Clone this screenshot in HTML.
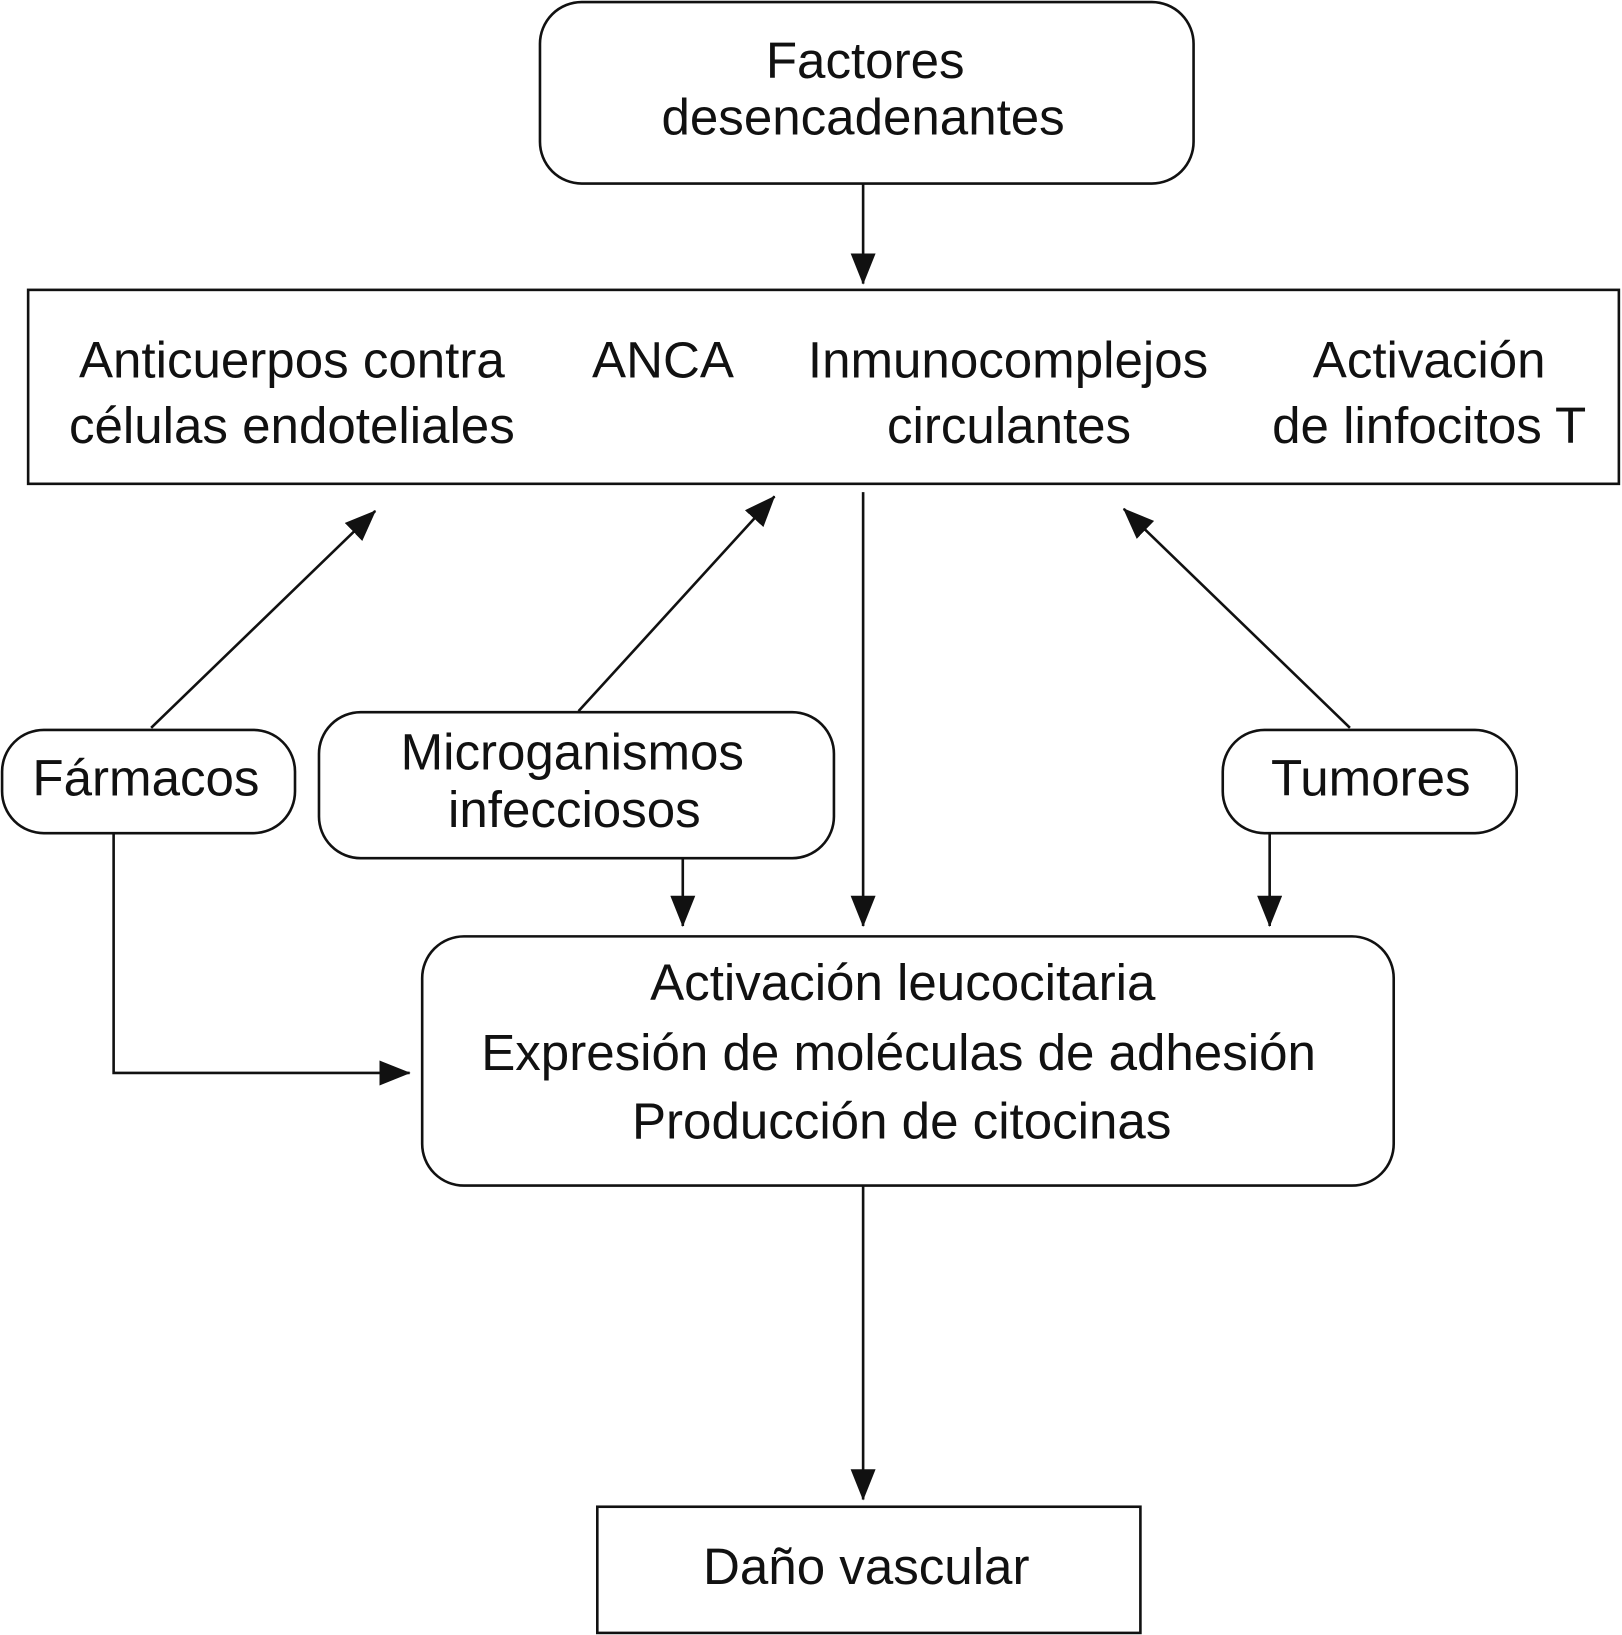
<!DOCTYPE html>
<html><head><meta charset="utf-8"><style>
html,body{margin:0;padding:0;background:#fff}
svg{display:block}
text{font-family:"Liberation Sans",Arial,sans-serif;font-size:49px;fill:#111;text-anchor:middle}
</style></head><body>
<svg width="1622" height="1635" viewBox="0 0 1556 1568" preserveAspectRatio="none" xmlns="http://www.w3.org/2000/svg">
<defs>
<marker id="a" markerWidth="12" markerHeight="10" refX="11" refY="5" orient="auto" markerUnits="userSpaceOnUse" viewBox="0 0 12 10">
</marker>
<marker id="h" viewBox="0 0 30 24" refX="29" refY="12" markerWidth="30" markerHeight="24" orient="auto" markerUnits="userSpaceOnUse">
<path d="M0,0 L30,12 L0,24 Z" fill="#111"/>
</marker>
</defs>
<g fill="none" stroke="#111" stroke-width="2.5">
<rect x="518" y="2" width="627" height="174" rx="40"/>
<rect x="27" y="278" width="1526" height="186"/>
<rect x="2" y="700" width="281" height="99" rx="40"/>
<rect x="306" y="683" width="494" height="140" rx="40"/>
<rect x="1173" y="700" width="282" height="99" rx="40"/>
<rect x="405" y="898" width="932" height="239" rx="40"/>
<rect x="573" y="1445" width="521" height="121"/>
<line x1="828" y1="176" x2="828" y2="272" marker-end="url(#h)"/>
<line x1="145" y1="698" x2="360" y2="490" marker-end="url(#h)"/>
<line x1="555" y1="682" x2="743" y2="476" marker-end="url(#h)"/>
<line x1="828" y1="472" x2="828" y2="888" marker-end="url(#h)"/>
<line x1="1295" y1="698" x2="1078" y2="488" marker-end="url(#h)"/>
<line x1="655" y1="823" x2="655" y2="888" marker-end="url(#h)"/>
<line x1="1218" y1="799" x2="1218" y2="888" marker-end="url(#h)"/>
<polyline points="109,799 109,1029 393,1029" marker-end="url(#h)"/>
<line x1="828" y1="1137" x2="828" y2="1438" marker-end="url(#h)"/>
</g>
<text x="830" y="75">Factores</text>
<text x="828" y="129">desencadenantes</text>
<text x="280" y="362">Anticuerpos contra</text>
<text x="280" y="425">células endoteliales</text>
<text x="636" y="362">ANCA</text>
<text x="967" y="362">Inmunocomplejos</text>
<text x="968" y="425">circulantes</text>
<text x="1371" y="362">Activación</text>
<text x="1371" y="425">de linfocitos T</text>
<text x="140" y="763">Fármacos</text>
<text x="549" y="738">Microganismos</text>
<text x="551" y="793">infecciosos</text>
<text x="1315" y="763">Tumores</text>
<text x="866" y="959">Activación leucocitaria</text>
<text x="862" y="1026">Expresión de moléculas de adhesión</text>
<text x="865" y="1092">Producción de citocinas</text>
<text x="831" y="1519">Daño vascular</text>
</svg>
</body></html>
